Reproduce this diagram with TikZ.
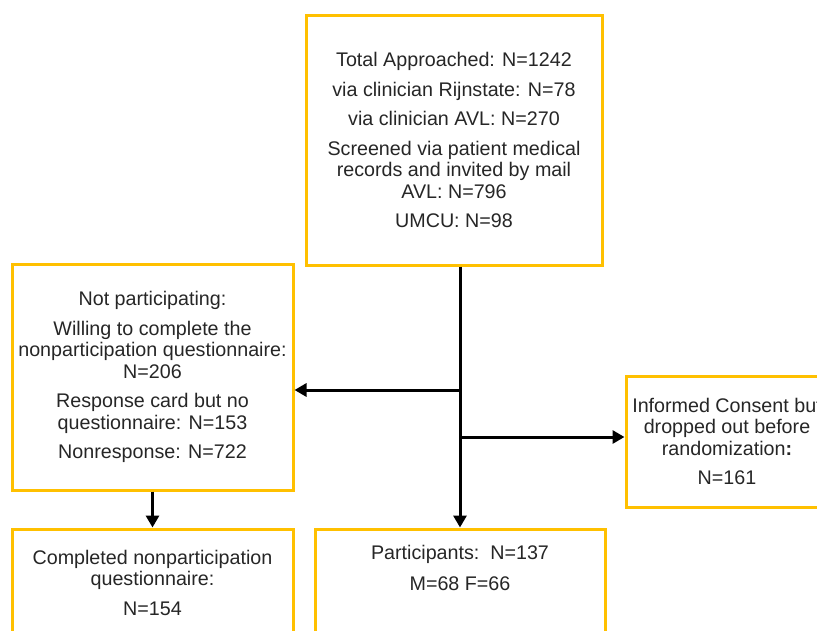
\documentclass[tikz,border=0pt]{standalone}
\usepackage{fontspec}
\setmainfont{Liberation Sans}
\usetikzlibrary{arrows.meta}
\definecolor{boxyellow}{HTML}{FFC000}
\definecolor{textgrey}{HTML}{262626}

\begin{document}
\begin{tikzpicture}[x=1pt, y=-1pt,
  flowbox/.style={draw=boxyellow, line width=3pt, align=center, text=textgrey,
    font=\fontsize{19.7}{21.5}\selectfont, inner sep=0pt},
  flowarrow/.style={draw=black, line width=3pt, -{Triangle[length=12pt,width=13pt]}}]
  \useasboundingbox (0,0) rectangle (817,630);

  % boxes
  \node[flowbox, minimum width=296pt, minimum height=250pt] (approached) at (454,140)
    {Total Approached: N=1242\\[8pt]via clinician Rijnstate: N=78\\[8pt]via clinician AVL: N=270\\[8pt]%
     Screened via patient medical\\records and invited by mail\\AVL: N=796\\[8pt]UMCU: N=98};
  \node[flowbox, minimum width=281pt, minimum height=226pt] (notpart) at (152.5,377)
    {Not participating:\\[8pt]Willing to complete the\\nonparticipation questionnaire:\\N=206\\[8pt]%
     Response card but no\\questionnaire: N=153\\[8pt]Nonresponse: N=722};
  \node[flowbox, minimum width=202pt, minimum height=131pt] (dropout) at (727,441.5)
    {Informed Consent but\\dropped out before\\randomization\textbf{:}\\[8pt]N=161};
  \node[flowbox, minimum width=281pt, minimum height=107pt] (completed) at (152.5,582.5)
    {Completed nonparticipation\\questionnaire:\\[8pt]N=154};
  \node[flowbox, minimum width=290pt, minimum height=107pt, text depth=29pt] (participants) at (460,582.5)
    {Participants:\ \ N=137\\[10pt]M=68 F=66};

  % connectors
  \coordinate (forkL) at (460,390);
  \coordinate (forkR) at (460,437);
  \draw[flowarrow] (approached.south -| participants.north) -- (participants.north);
  \draw[flowarrow] (forkL) -- (forkL -| notpart.east);
  \draw[flowarrow] (forkR) -- (forkR -| dropout.west);
  \draw[flowarrow] (notpart.south) -- (completed.north);
\end{tikzpicture}
\end{document}
